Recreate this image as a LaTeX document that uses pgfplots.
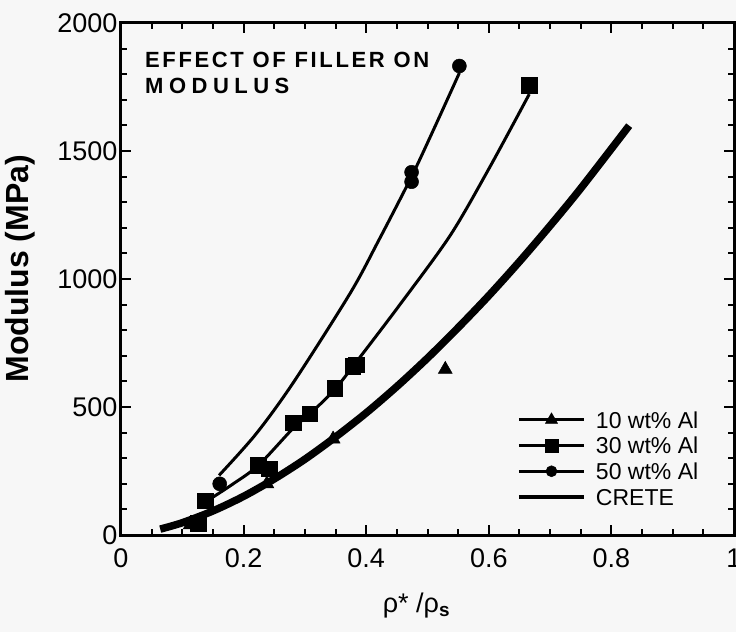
\documentclass[border=0pt]{standalone}
\usepackage{fontspec}
\setmainfont{Liberation Sans}
\usepackage{pgfplots}
\pgfplotsset{compat=1.18}
\definecolor{bg}{RGB}{247,247,247}
\pgfplotsset{
    longline/.style={legend image code/.code={%
        \draw[mark repeat=2,mark phase=2] plot coordinates {(0pt,0pt) (32.5pt,0pt) (65pt,0pt)};}},
}
\newcommand{\legfont}{\fontsize{23}{26}\selectfont}

\begin{document}
\begin{tikzpicture}
\fill[bg] (-121pt,-97pt) rectangle (615pt,535pt);
\begin{axis}[
    name=ax, at={(0pt,0pt)}, anchor=south west,
    scale only axis, width=613pt, height=512pt,
    xmin=0, xmax=1, ymin=0, ymax=2000,
    xtick={0,0.2,0.4,0.6,0.8,1}, xticklabels={0,0.2,0.4,0.6,0.8,1},
    ytick={0,500,1000,1500,2000}, yticklabels={0,500,1000,1500,2000},
    minor x tick num=3, minor y tick num=4,
    tick align=inside, major tick length=10pt, minor tick length=6pt,
    tick style={line width=2pt, black},
    axis line style={line width=3pt},
    ticklabel style={font=\fontsize{27}{30}\selectfont},
    xticklabel style={yshift=-10pt},
    yticklabel style={xshift=0pt},
    xlabel={ρ* /ρ\textsubscript{\textbf{s}}},
    xlabel style={font=\fontsize{27}{30}\selectfont, at={(axis description cs:0.482,-0.152)}, anchor=base},
    ylabel={Modulus (MPa)},
    ylabel style={font=\fontsize{32}{34}\selectfont\bfseries, at={(axis description cs:-0.165,0.52)}, anchor=center},
    legend style={draw=none, fill=none, at={(axis description cs:0.646,0.25)}, anchor=north west,
        inner sep=0pt, outer sep=0pt, row sep=0pt,
        nodes={inner sep=0pt, text height=21.1pt, text depth=4.6pt},
        /tikz/every odd column/.append style={column sep=10pt}},
    legend cell align=left,
]
% CRETE
\addplot[black, line width=7.5pt, smooth, forget plot] coordinates {
    (0.064,23) (0.10,48) (0.15,94) (0.20,151) (0.25,219) (0.30,296) (0.35,383)
    (0.40,477) (0.45,580) (0.50,691) (0.55,810) (0.60,935) (0.65,1068)
    (0.70,1208) (0.75,1354) (0.829,1599)
};
% 10 wt% Al
\addplot[black, only marks, mark=triangle*, mark size=8pt, mark options={line width=0.5pt}, forget plot] coordinates {
    (0.113,40) (0.238,200) (0.346,375) (0.529,647)
};
% 30 wt% Al
\addplot[black, line width=3pt, smooth, forget plot] coordinates {
    (0.137,128) (0.18,195) (0.224,272) (0.282,420) (0.308,472) (0.349,570)
    (0.382,670) (0.455,900) (0.537,1170) (0.60,1430) (0.666,1722)
};
\addplot[black, only marks, mark=square*, mark size=7.8pt, mark options={line width=0.5pt}, forget plot] coordinates {
    (0.126,46) (0.137,134) (0.224,272) (0.242,259) (0.281,439) (0.308,473)
    (0.349,573) (0.378,660) (0.384,665) (0.666,1757)
};
% 50 wt% Al
\addplot[black, line width=3pt, smooth, forget plot] coordinates {
    (0.160,233) (0.22,394) (0.281,595) (0.374,945) (0.42,1149) (0.474,1400)
    (0.51,1584) (0.552,1805)
};
\addplot[black, only marks, mark=*, mark size=7pt, mark options={line width=0.5pt}, forget plot] coordinates {
    (0.161,200) (0.474,1417) (0.474,1380) (0.552,1832)
};
% legend
\addlegendimage{longline, black, line width=2.8pt, mark=triangle*, mark size=7pt, mark options={line width=0.5pt}}
\addlegendentry{\legfont 10 wt\% Al}
\addlegendimage{longline, black, line width=2.8pt, mark=square*, mark size=6.3pt, mark options={line width=0.5pt}}
\addlegendentry{\legfont 30 wt\% Al}
\addlegendimage{longline, black, line width=2.8pt, mark=*, mark size=5.5pt, mark options={line width=0.5pt}}
\addlegendentry{\legfont 50 wt\% Al}
\addlegendimage{longline, black, line width=4pt}
\addlegendentry{\legfont CRETE}
\end{axis}
\node[anchor=base west, inner sep=0pt, font=\fontsize{22}{26}\selectfont\bfseries\addfontfeature{LetterSpace=12}] at ([shift={(24pt,467.7pt)}]ax.south west) {EFFECT OF FILLER ON};
\node[anchor=base west, inner sep=0pt, font=\fontsize{22}{26}\selectfont\bfseries\addfontfeature{LetterSpace=25}] at ([shift={(24pt,441.7pt)}]ax.south west) {MODULUS};
\pgfresetboundingbox
\path[use as bounding box] (-121pt,-97pt) rectangle (615pt,535pt);
\end{tikzpicture}
\end{document}
